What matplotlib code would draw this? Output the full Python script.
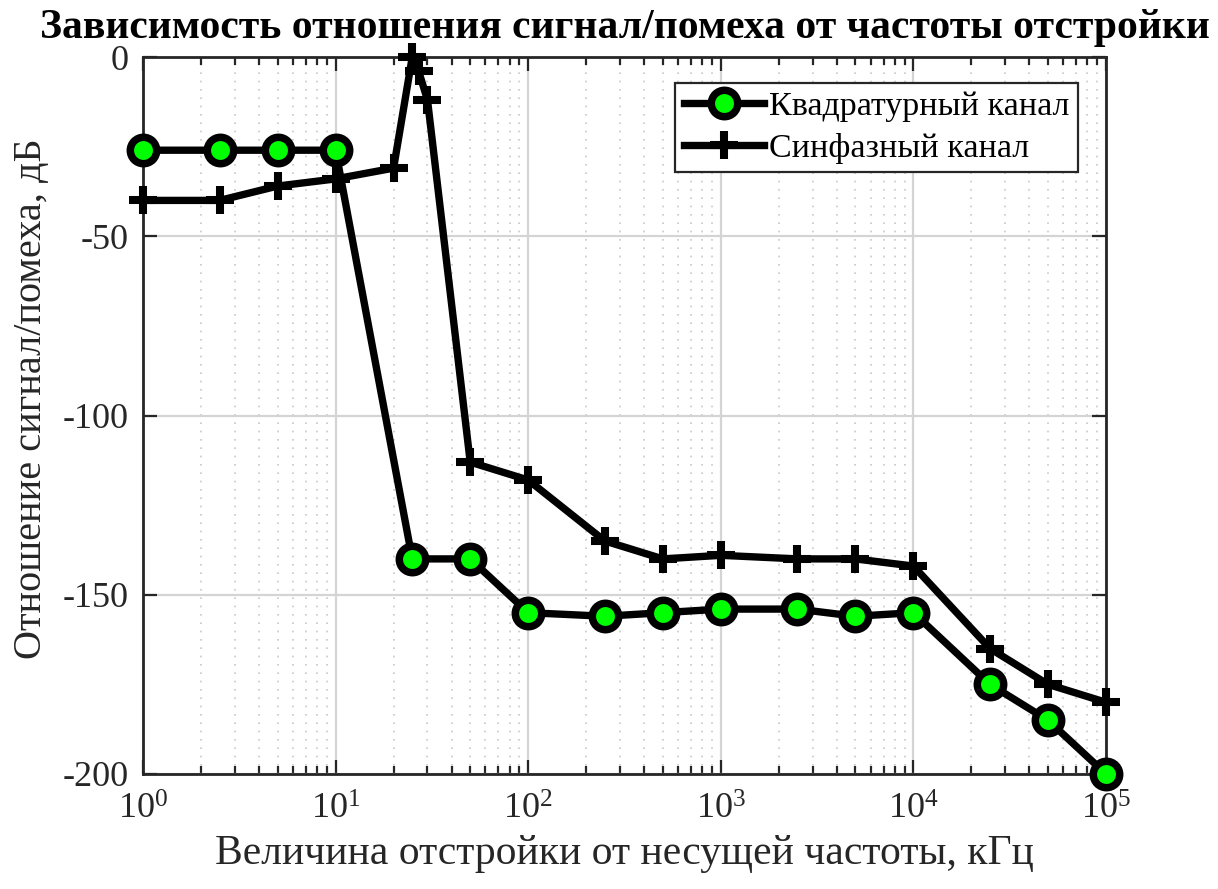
import math
import matplotlib
matplotlib.use("Agg")
import matplotlib.pyplot as plt
from matplotlib.ticker import LogLocator, FuncFormatter, FixedLocator, NullLocator

plt.rcParams['font.family'] = ['Liberation Serif', 'DejaVu Serif']
plt.rcParams['mathtext.fontset'] = 'custom'
plt.rcParams['mathtext.rm'] = 'Liberation Serif'
plt.rcParams['mathtext.it'] = 'Liberation Serif'
plt.rcParams['axes.unicode_minus'] = False

# Data
quad_x = [1, 2.5, 5, 10, 25, 50, 100, 250, 500, 1000, 2500, 5000, 10000, 25000, 50000, 100000]
quad_y = [-26, -26, -26, -26, -140, -140, -155, -156, -155, -154, -154, -156, -155, -175, -185, -200]
inph_x = [1, 2.5, 5, 10, 20, 25, 27, 30, 50, 100, 250, 500, 1000, 2500, 5000, 10000, 25000, 50000, 100000]
inph_y = [-40, -40, -36, -34, -31, 0, -4, -12, -113, -118, -135, -140, -139, -140, -140, -142, -165, -175, -180]

title = "Зависимость отношения сигнал/помеха от частоты отстройки"
xlabel = "Величина отстройки от несущей частоты, кГц"
ylabel = "Отношение сигнал/помеха, дБ"
legend_labels = ["Квадратурный канал", "Синфазный канал"]
y_ticks = [-200, -150, -100, -50, 0]
x_ticks = [1e0, 1e1, 1e2, 1e3, 1e4, 1e5]

fig = plt.figure(figsize=(12.18, 8.89), dpi=100)
ax = fig.add_axes([143/1218, 1-774/889, (1106-143)/1218, (774-57)/889])

ax.plot(quad_x, quad_y, color='black', lw=5.3, marker='o', markersize=19,
        markerfacecolor='#00ff00', markeredgecolor='black', markeredgewidth=5.4,
        label=legend_labels[0], zorder=4, clip_on=False)
ax.plot(inph_x, inph_y, color='black', lw=5.3, marker='+', markersize=20,
        markeredgewidth=5.8, markeredgecolor='black', label=legend_labels[1],
        zorder=3, clip_on=False)

ax.set_xscale('log')
ax.set_xlim(1, 1e5)
ax.set_ylim(-200, 0)
ax.set_yticks(y_ticks)
ax.yaxis.set_minor_locator(NullLocator())
ax.xaxis.set_major_locator(FixedLocator(x_ticks))
ax.xaxis.set_minor_locator(LogLocator(base=10, subs=range(2, 10), numticks=20))
ax.xaxis.set_major_formatter(FuncFormatter(lambda v, p: r"$\mathregular{10^{%d}}$" % round(math.log10(v))))

ax.grid(True, which='major', color='#d4d4d4', lw=1.6, ls='-')
ax.grid(True, which='minor', axis='x', color='#c8c8c8', lw=1.2, ls=(0, (1, 4)))
ax.set_axisbelow(True)

for s in ax.spines.values():
    s.set_color('#262626')
    s.set_linewidth(2.0)
ax.tick_params(which='both', direction='in', top=True, right=True, colors='#262626',
               labelsize=26, width=1.6)
ax.tick_params(which='major', length=10, pad=10)
ax.tick_params(which='minor', length=6)
ax.tick_params(axis='x', which='major', pad=14)

ax.set_title(title, fontsize=30, fontweight='bold', color='black', pad=14)
ax.set_xlabel(xlabel, fontsize=30, color='#262626', labelpad=6)
ax.set_ylabel(ylabel, fontsize=29, color='#262626')
ax.yaxis.set_label_coords(-0.0966, 0.524)

leg = ax.legend(loc='upper right', bbox_to_anchor=(0.971, 0.9637), borderaxespad=0,
                fontsize=24.5, frameon=True, fancybox=False,
                edgecolor='#262626', framealpha=1, borderpad=0.25, handlelength=2.35,
                handletextpad=0.15, labelspacing=0.3)
leg.get_frame().set_linewidth(1.6)

fig.savefig('out.png', dpi=100)
